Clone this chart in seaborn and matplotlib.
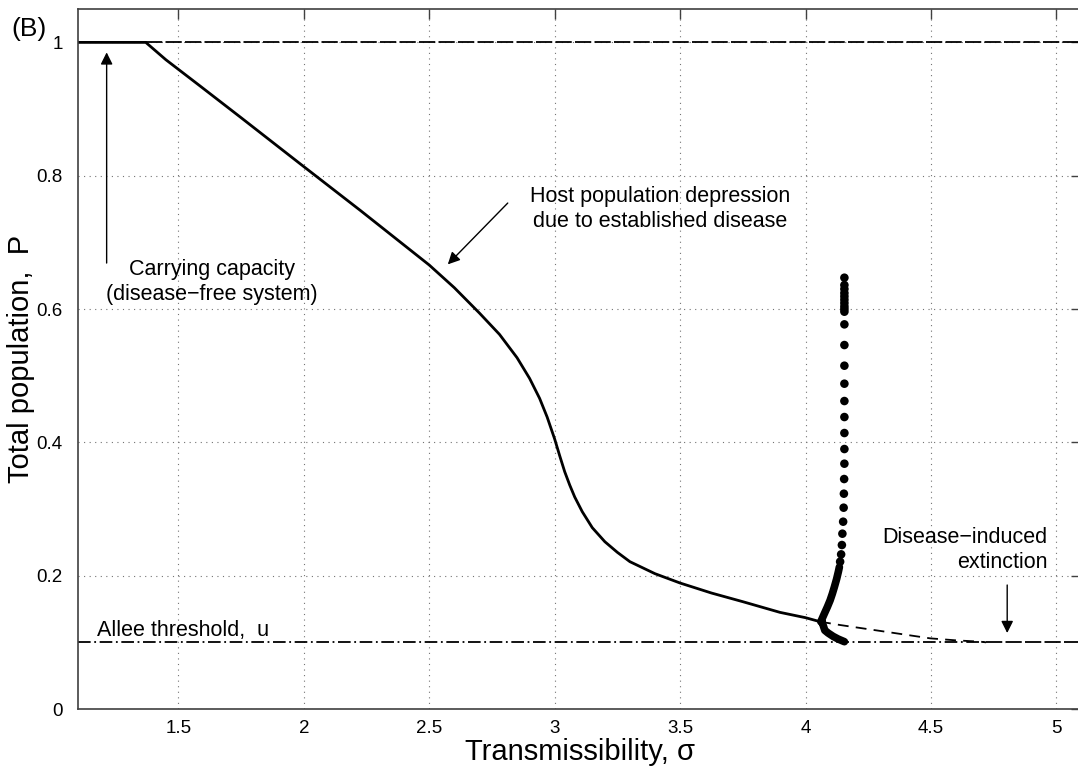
import numpy as np
import pandas as pd
import seaborn as sns
import matplotlib
matplotlib.use("Agg")
import matplotlib.pyplot as plt

# stable branch with established disease
main_sigma = [1.10, 1.37, 1.45, 1.585, 1.75, 1.985, 2.225, 2.50, 2.60, 2.70, 2.78,
              2.85, 2.90, 2.94, 2.97, 3.00, 3.02, 3.04, 3.06, 3.08, 3.11, 3.15,
              3.20, 3.25, 3.30, 3.40, 3.50, 3.625, 3.75, 3.898, 4.00, 4.058]
main_P = [1.0, 1.0, 0.974, 0.935, 0.887, 0.818, 0.748, 0.666, 0.632, 0.594, 0.562,
          0.527, 0.496, 0.466, 0.438, 0.405, 0.380, 0.356, 0.336, 0.318, 0.296, 0.272,
          0.251, 0.235, 0.221, 0.203, 0.189, 0.174, 0.161, 0.145, 0.137, 0.131]

# unstable continuation (dashed) down to the Allee threshold
unst_sigma = [4.058, 4.138, 4.30, 4.497, 4.60, 4.697, 4.72]
unst_P = [0.131, 0.126, 0.117, 0.106, 0.103, 0.101, 0.100]

# dotted branch: dense lower part and separate dots higher up
dense_sigma = [4.155, 4.130, 4.110, 4.090, 4.077, 4.066, 4.061, 4.066, 4.075, 4.087,
               4.098, 4.107, 4.115, 4.124, 4.131, 4.135]
dense_P = [0.101, 0.105, 0.109, 0.114, 0.118, 0.124, 0.131, 0.137, 0.143, 0.153,
           0.163, 0.173, 0.183, 0.195, 0.206, 0.213]
dot_sigma = [4.138, 4.142, 4.145, 4.147, 4.150, 4.152, 4.153, 4.154, 4.155, 4.155,
             4.155, 4.155, 4.155, 4.155, 4.155, 4.155, 4.155, 4.155, 4.155, 4.155,
             4.155, 4.155, 4.155, 4.155, 4.155, 4.155, 4.155]
dot_P = [0.221, 0.232, 0.246, 0.263, 0.281, 0.302, 0.323, 0.345, 0.368, 0.390,
         0.414, 0.438, 0.462, 0.488, 0.515, 0.546, 0.577, 0.596, 0.600, 0.604,
         0.609, 0.614, 0.619, 0.624, 0.630, 0.636, 0.647]

carrying_capacity = 1.0
allee_threshold = 0.1
extinction_sigma = 4.72
xticks = [1.5, 2, 2.5, 3, 3.5, 4, 4.5, 5]
xtick_labels = ["1.5", "2", "2.5", "3", "3.5", "4", "4.5", "5"]
yticks = [0, 0.2, 0.4, 0.6, 0.8, 1]
ytick_labels = ["0", "0.2", "0.4", "0.6", "0.8", "1"]

sns.set_theme(style="white")
plt.rcParams['font.family'] = ['Liberation Sans', 'DejaVu Sans']
plt.rcParams.update({"text.color": "black", "axes.labelcolor": "black",
                     "xtick.labelcolor": "black", "ytick.labelcolor": "black"})

fig = plt.figure(figsize=(10.78, 7.67), dpi=100)
ax = fig.add_axes([0.0724, 0.0756, 0.9308, 0.9126])
xmin, xmax = 1.1, 5.1

# reference lines
ax.plot([xmin, extinction_sigma], [allee_threshold] * 2, color="black", lw=1.3,
        linestyle=(0, (7, 2, 1, 2)))
ax.plot([extinction_sigma, xmax], [allee_threshold] * 2, color="black", lw=1.3,
        linestyle=(0, (9, 1.8)))
ax.plot([1.37, xmax], [carrying_capacity] * 2, color="black", lw=1.3,
        linestyle=(0, (9, 1.8)))

main_df = pd.DataFrame({"sigma": main_sigma, "P": main_P})
sns.lineplot(data=main_df, x="sigma", y="P", sort=False, color="black", lw=2.0, ax=ax)

unst_df = pd.DataFrame({"sigma": unst_sigma, "P": unst_P})
sns.lineplot(data=unst_df, x="sigma", y="P", sort=False, color="black", lw=1.3,
             linestyle=(0, (6, 4)), ax=ax)

dense_df = pd.DataFrame({"sigma": dense_sigma, "P": dense_P})
sns.lineplot(data=dense_df, x="sigma", y="P", sort=False, color="black", lw=5.5,
             solid_capstyle="round", ax=ax)
dot_df = pd.DataFrame({"sigma": dot_sigma, "P": dot_P})
sns.scatterplot(data=dot_df, x="sigma", y="P", color="black", s=38, edgecolor="none",
                ax=ax, zorder=5)

ax.set_xlim(xmin, xmax)
ax.set_ylim(0, 1.05)
ax.set_xticks(xticks)
ax.set_xticklabels(xtick_labels)
ax.set_yticks(yticks)
ax.set_yticklabels(ytick_labels)
ax.tick_params(direction="in", length=7, width=1.0, labelsize=13.5, color="0.25",
               labelcolor="black", top=True, right=True)
ax.tick_params(axis="x", pad=8)
ax.tick_params(axis="y", pad=11)
for s in ax.spines.values():
    s.set_color("0.25")
    s.set_linewidth(1.2)
ax.grid(True, color="0.45", linestyle=(0, (1, 4)), linewidth=0.8)

ax.set_xlabel("Transmissibility, σ", fontsize=21)
ax.set_ylabel("Total population,  P", fontsize=21)
ax.xaxis.set_label_coords(0.5, -0.041)
ax.yaxis.set_label_coords(-0.043, 0.5)

fig.text(0.011, 0.962, "(B)", fontsize=19, ha="left", va="center")

arrow_kw = dict(arrowstyle="-|>", color="black", lw=1.0, mutation_scale=18,
                shrinkA=0, shrinkB=0)
ax.annotate("", xy=(1.214, 0.985), xytext=(1.214, 0.669), arrowprops=arrow_kw)
ax.text(1.633, 0.64, "Carrying capacity\n(disease\u2212free system)", fontsize=15.5,
        ha="center", va="center", linespacing=1.25)

ax.annotate("", xy=(2.574, 0.667), xytext=(2.813, 0.759), arrowprops=arrow_kw)
ax.text(3.42, 0.75, "Host population depression\ndue to established disease", fontsize=15.5,
        ha="center", va="center", linespacing=1.25)

ax.annotate("", xy=(4.804, 0.114), xytext=(4.804, 0.186), arrowprops=arrow_kw)
ax.text(4.964, 0.238, "Disease\u2212induced\nextinction", fontsize=15.5,
        ha="right", va="center", linespacing=1.25)

ax.text(1.174, 0.118, "Allee threshold,  u", fontsize=15.5, ha="left", va="center")

fig.savefig("out.png", dpi=100)
